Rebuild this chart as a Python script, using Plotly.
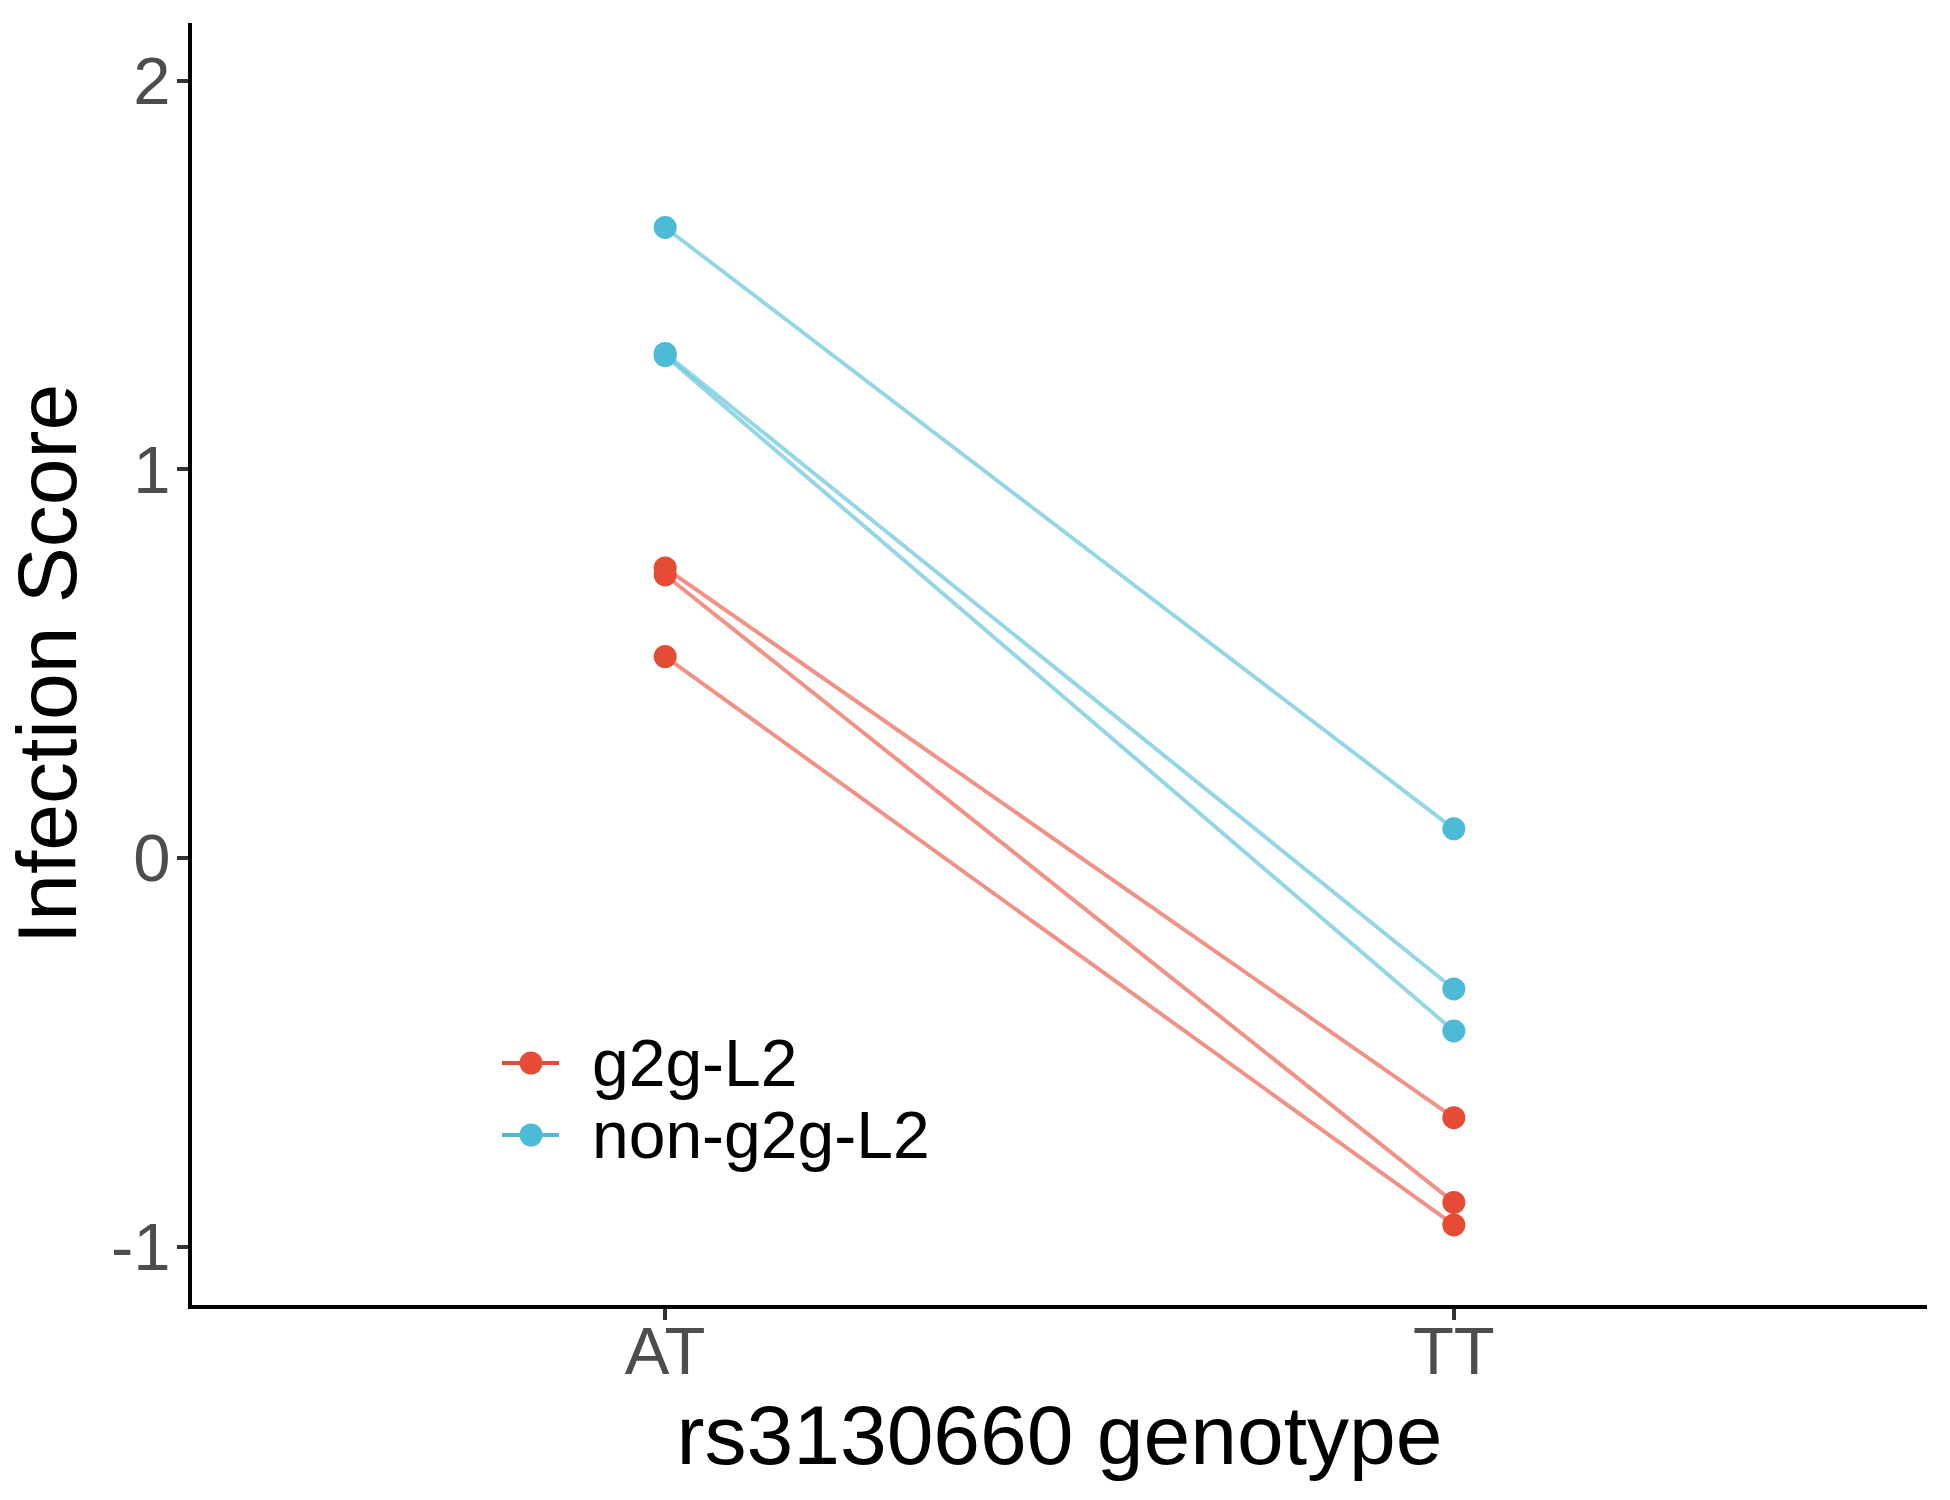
import plotly.graph_objects as go

genotypes = ["AT", "TT"]
groups = ["g2g-L2", "non-g2g-L2"]
g2g_at = [0.746, 0.728, 0.518]
g2g_tt = [-0.668, -0.886, -0.944]
non_at = [1.622, 1.298, 1.292]
non_tt = [0.075, -0.337, -0.445]
y_ticks = [-1, 0, 1, 2]

colors = {"g2g-L2": "#E64B35", "non-g2g-L2": "#4DBBD5"}
line_colors = {"g2g-L2": "rgba(230,75,53,0.6)", "non-g2g-L2": "rgba(77,187,213,0.6)"}
series = {"g2g-L2": (g2g_at, g2g_tt), "non-g2g-L2": (non_at, non_tt)}

FONT = "Liberation Sans, Arial, sans-serif"
fig = go.Figure()

# lines
for g in groups:
    at, tt = series[g]
    for a, t in zip(at, tt):
        fig.add_trace(go.Scatter(x=genotypes, y=[a, t], mode="lines",
                                 line=dict(color=line_colors[g], width=4),
                                 showlegend=False, hoverinfo="skip", name=g))
# points
for g in groups:
    at, tt = series[g]
    xs = [genotypes[0]] * len(at) + [genotypes[1]] * len(tt)
    ys = list(at) + list(tt)
    fig.add_trace(go.Scatter(x=xs, y=ys, mode="markers", name=g,
                             marker=dict(color=colors[g], size=23, line=dict(width=0)),
                             showlegend=False))

# plot panel in page pixels
L, R, T, B = 192, 1927, 23, 1305
def px_x(p):
    return (p - L) / (R - L)
def px_y(p):
    return (B - p) / (B - T)

# legend (drawn in paper coordinates inside the panel)
legend_rows = [1063, 1135]
for g, row in zip(groups, legend_rows):
    yp = px_y(row)
    fig.add_shape(type="line", xref="paper", yref="paper",
                  x0=px_x(502), x1=px_x(559), y0=yp, y1=yp,
                  line=dict(color=colors[g], width=4))
    fig.add_shape(type="circle", xref="paper", yref="paper",
                  xsizemode="pixel", ysizemode="pixel",
                  xanchor=px_x(531), yanchor=yp, x0=-11.5, x1=11.5, y0=-11.5, y1=11.5,
                  fillcolor=colors[g], line=dict(width=0))
    fig.add_annotation(text=g, xref="paper", yref="paper", x=px_x(590), y=yp,
                       xanchor="left", yanchor="middle", showarrow=False,
                       font=dict(size=66, color="black", family=FONT))

fig.update_layout(
    width=1950, height=1500,
    margin=dict(l=L, r=1950 - R, t=T, b=1500 - B),
    plot_bgcolor="white", paper_bgcolor="white",
    font=dict(family=FONT, color="black"),
    showlegend=False,
    xaxis=dict(type="category", categoryorder="array", categoryarray=genotypes,
               range=[-0.6, 1.6], showgrid=False, zeroline=False,
               showline=True, linecolor="black", linewidth=4,
               ticks="outside", ticklen=11, tickwidth=4, tickcolor="#333333",
               ticklabelstandoff=-26,
               tickfont=dict(size=67, color="#4D4D4D", family=FONT),
               title=dict(text="rs3130660 genotype", font=dict(size=84, color="black", family=FONT), standoff=3)),
    yaxis=dict(range=[-1.150, 2.148], tickvals=y_ticks, ticktext=[str(v) for v in y_ticks],
               showgrid=False, zeroline=False,
               showline=True, linecolor="black", linewidth=4,
               ticks="outside", ticklen=11, tickwidth=4, tickcolor="#333333",
               ticklabelstandoff=-7,
               tickfont=dict(size=67, color="#4D4D4D", family=FONT),
               title=dict(text="Infection Score", font=dict(size=84, color="black", family=FONT), standoff=16)),
)

fig.write_html("out.html", config={"displayModeBar": False},
               post_script="document.body.style.margin='0px';document.body.style.overflow='hidden';")
